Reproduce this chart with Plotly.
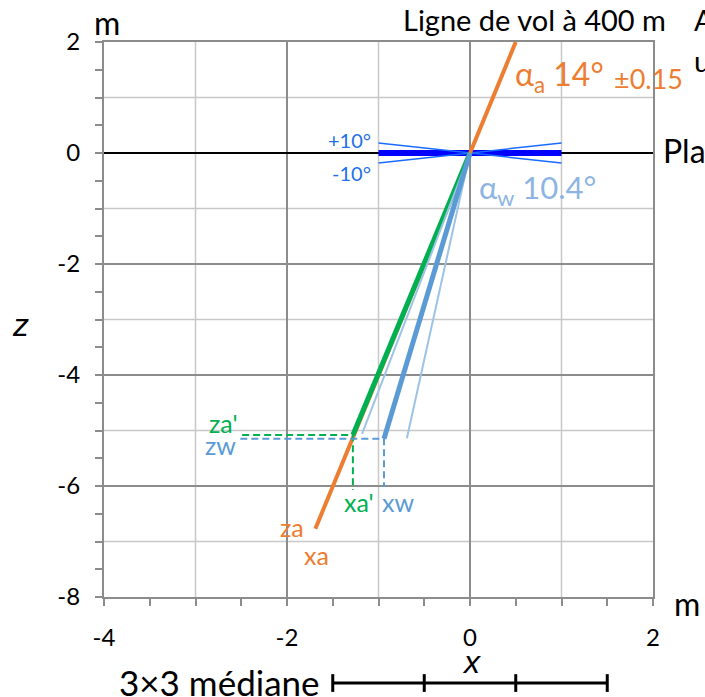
import plotly.graph_objects as go

# ---- data (metres) ----
plane_x = [-4.0, 2.0]
plane_z = [0.0, 0.0]
roll_x = [-1.0, 1.0]
roll_z = [0.0, 0.0]
roll_plus_z = [0.18, -0.18]
roll_minus_z = [-0.18, 0.18]
orange_x = [0.50, 0.0, -1.69]
orange_z = [2.0, 0.0, -6.77]
green_x = [0.0, -1.28]
green_z = [0.0, -5.08]
wthin1_x = [0.0, -1.18]
wthin1_z = [0.0, -5.06]
wthin2_x = [0.0, -0.69]
wthin2_z = [0.0, -5.14]
wthick_x = [0.0, -0.94]
wthick_z = [0.0, -5.15]
green_dash_x = [-2.49, -1.28, -1.28]
green_dash_z = [-5.08, -5.08, -6.07]
blue_dash_x = [-2.51, -0.94, -0.94]
blue_dash_z = [-5.15, -5.15, -6.02]
median_ticks = [-1.5, -0.5, 0.5, 1.5]
x_minor_grid = [-3, -1, 1]
z_minor_grid = [1, -1, -3, -5, -7]
x_tickvals = [-4, -2, 0, 2]
x_ticktext = ["-4", "-2", "0", "2"]
z_tickvals = [-8, -6, -4, -2, 0, 2]
z_ticktext = ["-8", "-6", "-4", "-2", "0", "2"]

FONT = "Lato"
ITALIC_FONT = "Liberation Sans"
ORANGE = "#ED7D31"
GREEN = "#00B050"
STEEL = "#5B9BD5"
LIGHT = "#9DC3E6"
LIGHTTXT = "#8DB4E2"
BLUE = "#0000FF"
ROLL = "#1A6BFF"
ROLLTXT = "#1F6FE8"

fig = go.Figure()

def line(x, y, color, width, dash=None):
    fig.add_trace(go.Scatter(x=x, y=y, mode="lines", hoverinfo="skip",
                             line=dict(color=color, width=width, dash=dash)))

line(plane_x, plane_z, "black", 2)
line(roll_x, roll_z, BLUE, 6)
line(roll_x, roll_plus_z, ROLL, 1.5)
line(roll_x, roll_minus_z, ROLL, 1.5)
line(orange_x, orange_z, ORANGE, 4)
line(green_x, green_z, GREEN, 5)
line(wthin1_x, wthin1_z, LIGHT, 2)
line(wthin2_x, wthin2_z, LIGHT, 2)
line(wthick_x, wthick_z, STEEL, 5)
line(green_dash_x, green_dash_z, GREEN, 2, "7px,4px")
line(blue_dash_x, blue_dash_z, STEEL, 2, "7px,4px")

shapes = []
for gx in x_minor_grid:
    shapes.append(dict(type="line", xref="x", yref="paper", x0=gx, x1=gx, y0=0, y1=1,
                       line=dict(color="#C8C8C8", width=1.5), layer="below"))
for gz in z_minor_grid:
    shapes.append(dict(type="line", xref="paper", yref="y", x0=0, x1=1, y0=gz, y1=gz,
                       line=dict(color="#C8C8C8", width=1.5), layer="below"))
# 3x3 median scale bar
bar_y = -0.155
shapes.append(dict(type="line", xref="x", yref="paper", x0=median_ticks[0], x1=median_ticks[-1],
                   y0=bar_y, y1=bar_y, line=dict(color="black", width=3)))
for t in median_ticks:
    shapes.append(dict(type="line", xref="x", yref="paper", x0=t, x1=t,
                       y0=bar_y - 0.016, y1=bar_y + 0.016, line=dict(color="black", width=3)))

ann = []
def text(x, y, s, size, color="black", xanchor="left", ref="data", family=FONT):
    xr, yr = ("x", "y") if ref == "data" else ("paper", "paper")
    ann.append(dict(x=x, y=y, xref=xr, yref=yr, text=s, showarrow=False,
                    xanchor=xanchor, yanchor="middle",
                    font=dict(family=family, size=size, color=color)))

# texts outside the plotting area (paper coordinates)
text(0.541, 1.040, "Ligne de vol à 400 m", 29, ref="paper")
text(1.071, 1.040, "Altitude", 29, ref="paper")
text(1.071, 0.967, "u", 29, ref="paper")
text(1.015, 0.805, "Plan d'eau", 32, ref="paper")
text(-0.022, 1.036, "m", 32, ref="paper")
text(1.034, -0.011, "m", 32, ref="paper")
text(-0.153, 0.490, "<i>z</i>", 32, xanchor="center", ref="paper", family=ITALIC_FONT)
text(0.6685, -0.117, "<i>x</i>", 32, xanchor="center", ref="paper", family=ITALIC_FONT)
text(0.397, -0.153, "3×3 médiane", 35, xanchor="right", ref="paper")

# texts inside the plotting area (data coordinates)
text(0.47, 1.39, "α<sub>a</sub> 14°", 32, ORANGE)
text(1.552, 1.35, "±0.15", 27, ORANGE)
text(0.077, -0.65, "α<sub>w</sub> 10.4°", 31, LIGHTTXT)
text(-1.06, 0.23, "+10°", 20, ROLLTXT, xanchor="right")
text(-1.06, -0.36, "-10°", 20, ROLLTXT, xanchor="right")
text(-2.874, -4.87, "za'", 25, GREEN)
text(-2.918, -5.27, "zw", 25, STEEL)
text(-1.399, -6.29, "xa'", 25, GREEN)
text(-0.984, -6.29, "xw", 25, STEEL)
text(-2.098, -6.74, "za", 25, ORANGE)
text(-1.836, -7.24, "xa", 25, ORANGE)

axis_common = dict(
    showgrid=True, gridcolor="#8C8C8C", gridwidth=1.5,
    showline=True, linecolor="#8C8C8C", linewidth=2, mirror=True,
    ticks="outside", ticklen=7, tickwidth=2, tickcolor="#8C8C8C",
    zeroline=False,
    tickfont=dict(family=FONT, size=24, color="black"),
    minor=dict(dtick=0.5, ticks="outside", ticklen=7, tickwidth=2,
               tickcolor="#8C8C8C", showgrid=False),
)

fig.update_layout(
    width=705, height=697,
    margin=dict(l=104, r=52, t=42, b=100),
    paper_bgcolor="white", plot_bgcolor="white",
    showlegend=False,
    xaxis=dict(range=[-4, 2], tickmode="array", tickvals=x_tickvals, ticktext=x_ticktext,
               ticklabelstandoff=11, **axis_common),
    yaxis=dict(range=[-8, 2], tickmode="array", tickvals=z_tickvals, ticktext=z_ticktext,
               ticklabelstandoff=10, **axis_common),
    shapes=shapes,
    annotations=ann,
)

fig.write_html("out.html")
